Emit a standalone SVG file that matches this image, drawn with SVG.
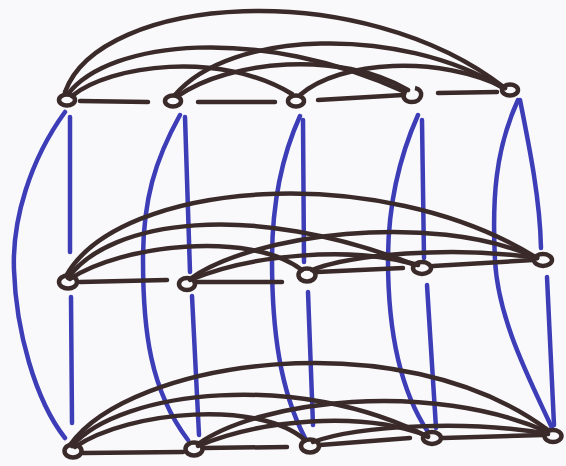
<svg xmlns="http://www.w3.org/2000/svg" width="566" height="466" viewBox="0 0 566 466">
<style>
.e{fill:none;stroke:#3b2a2a;stroke-width:4.5;stroke-linecap:round;stroke-linejoin:round}
.v{fill:none;stroke:#3d3db8;stroke-width:4.5;stroke-linecap:round;stroke-linejoin:round}
.n{fill:none;stroke:#3b2a2a;stroke-width:4.5}
</style>
<rect width="566" height="466" fill="#f9f9fb"/>
<g id="connectors">
<g id="vertical">
<path class="v" d="M65,112 C30,160 12,220 14,270 C16,330 35,400 65,438"/>
<path class="v" d="M70,117 L70,252"/>
<path class="v" d="M71,297 L72,423"/>
<path class="v" d="M180,115 C155,160 143,200 143,260 C143,330 150,390 188,440"/>
<path class="v" d="M185,117 L190,272"/>
<path class="v" d="M192,296 L199,435"/>
<path class="v" d="M300,116 C280,160 272,210 272,260 C272,330 280,390 305,438"/>
<path class="v" d="M303,120 L304,262"/>
<path class="v" d="M308,292 L313,425"/>
<path class="v" d="M418,115 C398,160 388,210 388,260 C388,330 400,390 428,432"/>
<path class="v" d="M422,120 L424,258"/>
<path class="v" d="M427,285 L436,428"/>
<path class="v" d="M518,100 C495,150 492,200 495,260 C498,320 530,380 552,428"/>
<path class="v" d="M520,100 C530,150 540,200 541,248"/>
<path class="v" d="M547,277 L554,425"/>
</g>
<g id="row1">
<path class="e" d="M80,101 L148,102"/>
<path class="e" d="M198,102 L275,102"/>
<path class="e" d="M318,100 L403,95"/>
<path class="e" d="M438,93 L497,92"/>
<path class="e" d="M65,92 C100,-5 360,-25 505,88"/>
<path class="e" d="M68,94 C110,40 260,25 405,92"/>
<path class="e" d="M72,96 C110,65 220,50 292,94"/>
<path class="e" d="M175,95 C230,30 400,25 503,88"/>
<path class="e" d="M178,96 C230,60 340,50 408,90"/>
<path class="e" d="M300,95 C340,60 440,55 505,88"/>
</g>
<g id="row2">
<path class="e" d="M80,282 L167,280"/>
<path class="e" d="M197,282 L282,282"/>
<path class="e" d="M317,272 L403,268"/>
<path class="e" d="M433,266 L533,260"/>
<path class="e" d="M66,276 C120,180 380,160 537,258"/>
<path class="e" d="M68,278 C110,220 250,200 415,265"/>
<path class="e" d="M70,279 C120,245 250,230 302,270"/>
<path class="e" d="M190,279 C250,235 430,210 537,258"/>
<path class="e" d="M190,280 C250,255 350,245 418,265"/>
<path class="e" d="M312,270 C350,255 450,245 537,258"/>
</g>
<g id="row3">
<path class="e" d="M83,453 L183,452"/>
<path class="e" d="M204,448 L287,447"/>
<path class="e" d="M320,445 L410,438"/>
<path class="e" d="M443,438 L543,435"/>
<path class="e" d="M70,445 C130,360 400,320 548,430"/>
<path class="e" d="M72,446 C120,390 300,370 428,437"/>
<path class="e" d="M75,447 C130,410 260,400 305,440"/>
<path class="e" d="M198,444 C260,400 430,380 548,432"/>
<path class="e" d="M198,446 C260,420 360,410 428,436"/>
<path class="e" d="M313,442 C360,425 470,420 548,434"/>
</g>
</g>
<g id="A1"><ellipse class="n" cx="67" cy="100" rx="8" ry="5.5"/></g>
<g id="A2"><ellipse class="n" cx="173" cy="101" rx="8" ry="5.5"/></g>
<g id="A3"><ellipse class="n" cx="296" cy="101" rx="8" ry="5.5"/></g>
<g id="A4"><path class="n" d="M415,88 C425,90 422,102 412,102 C404,102 402,96 405,93"/></g>
<g id="A5"><ellipse class="n" cx="510" cy="90" rx="8" ry="5.5"/></g>
<g id="B1"><ellipse class="n" cx="68" cy="282" rx="9" ry="6.5"/></g>
<g id="B2"><ellipse class="n" cx="187" cy="284" rx="8" ry="6"/></g>
<g id="B3"><ellipse class="n" cx="307" cy="275" rx="8.5" ry="6.5"/></g>
<g id="B4"><ellipse class="n" cx="422" cy="268" rx="9" ry="6"/></g>
<g id="B5"><ellipse class="n" cx="543" cy="260" rx="9" ry="6"/></g>
<g id="C1"><ellipse class="n" cx="73" cy="451" rx="8.5" ry="6.5"/></g>
<g id="C2"><ellipse class="n" cx="194" cy="449" rx="8.5" ry="6.5"/></g>
<g id="C3"><ellipse class="n" cx="310" cy="446" rx="9" ry="6.5"/></g>
<g id="C4"><ellipse class="n" cx="432" cy="438" rx="9" ry="6"/></g>
<g id="C5"><ellipse class="n" cx="553" cy="436" rx="8.5" ry="6"/></g>
</svg>
